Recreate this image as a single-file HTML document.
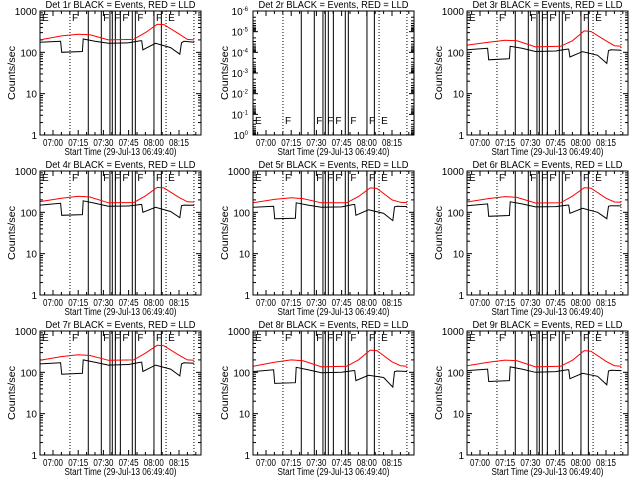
<!DOCTYPE html>
<html><head><meta charset="utf-8"><style>
body{margin:0;background:#fff}
svg{display:block}
text{font-family:"Liberation Sans",sans-serif;font-size:10px;fill:#000}
</style></head><body>
<svg id="c" width="640" height="480" viewBox="0 0 640 480"></svg>
<script>
// time in minutes after 07:00
const blackTimes=[-7.7,4.5,5.2,17.5,18,25,33,45,52,52.8,53.5,61,70,75.5,76.5,78,84];
const redTimes=[-7.7,5,15,22,33,48,55,62,66,75,80,84];
const detNames=["1r","2r","3r","4r","5r","6r","7r","8r","9r"];
const black1=[175,185,100,105,210,185,165,170,190,190,115,165,130,90,170,185,175];
const red1=[200,250,275,265,200,205,300,480,470,280,205,200];
const black3=[115,125,66,70,140,125,105,108,120,120,77,104,85,54,110,115,112];
const red3=[150,175,195,190,135,140,190,330,320,190,145,140];
const black4=[150,165,85,88,190,165,140,142,155,155,100,132,105,74,145,150,148];
const red4=[182,220,245,235,170,172,250,400,390,230,180,178];
const black5=[132,140,70,72,170,150,132,135,155,155,85,115,95,63,135,140,138];
const red5=[170,205,225,215,170,170,240,390,380,200,175,170];
const black6=[145,160,80,84,180,160,135,138,150,150,95,125,100,70,140,145,143];
const red6=[178,215,240,230,168,170,245,395,385,220,178,175];
const black7=[160,170,90,95,200,175,150,155,175,175,105,150,120,82,160,170,165];
const red7=[195,240,265,255,195,200,290,450,440,260,200,195];
const black8=[104,115,54,56,132,115,98,100,110,110,63,85,75,44,104,108,105];
const red8=[140,175,200,190,135,140,200,345,335,180,145,140];
const black9=[110,120,60,63,135,120,100,104,115,115,70,95,80,50,108,112,110];
const red9=[145,175,198,190,135,140,195,335,325,185,145,140];
const blackSeries=[black1,null,black3,black4,black5,black6,black7,black8,black9];
const redSeries=[red1,null,red3,red4,red5,red6,red7,red8,red9];
const solidLines=[21,28.75,33.9,35.3,37.1,40.1,47.2,49,60.1,64.5];
const dottedLines=[10.1,67.3,83.9];
const flagTimes=[10.1,28.75,35.3,40.1,49,60.1,67.3];
const flagLetters=["F","F","F","F","F","F","E"];
const xTickTimes=[0,15,30,45,60,75];
const xTickLabels=["07:00","07:15","07:30","07:45","08:00","08:15"];

const NS="http://www.w3.org/2000/svg";
const svg=document.getElementById("c");
function mk(tag,attrs,parent){const e=document.createElementNS(NS,tag);for(const k in attrs)e.setAttribute(k,attrs[k]);(parent||svg).appendChild(e);return e;}

for(let p=0;p<9;p++){
  const col=p%3,row=Math.floor(p/3);
  const x0=[0,213,427][col],y0=row*160;
  const L=x0+40,R=x0+201,T=y0+11,B=y0+135;
  const g=mk("g",{});
  
  
  const xs=t=>L+13+(t)*25.2/15;
  const isEmpty=p===1;
  // empty panel: inverted log axis, 1e-6 at top, 1e0 at bottom
  const ys=v=>isEmpty?B+Math.log10(v)*(B-T)/6:B-Math.log10(v)*(B-T)/3;
  const ti=mk("text",{x:(L+R)/2,y:T-3,"text-anchor":"middle",textLength:150,lengthAdjust:"spacingAndGlyphs"},g);
  ti.textContent="Det "+detNames[p]+" BLACK = Events, RED = LLD";
  
  
  const yt=mk("text",{x:0,y:0,"text-anchor":"middle",transform:`translate(${x0+15},${(T+B)/2}) rotate(-90)`,"font-size":"9",textLength:54,lengthAdjust:"spacingAndGlyphs"},g);
  yt.textContent="Counts/sec";
  
  
  const yg=mk("g",{},g);
  
  
  const decs=isEmpty?[-6,-5,-4,-3,-2,-1,0]:[0,1,2,3];
  decs.forEach(d=>{
    const v=Math.pow(10,d),y=ys(v);
    mk("line",{x1:L,x2:L+5,y1:y,y2:y,stroke:"#000"},yg);
    mk("line",{x1:R-5,x2:R,y1:y,y2:y,stroke:"#000"},yg);
    let lab;
    if(isEmpty){lab=mk("text",{x:L-5,y:y+4,"text-anchor":"end","font-size":"9"},yg);lab.innerHTML='10<tspan dy="-4" font-size="6">'+(d===0?'0':d)+'</tspan>';}
    else{lab=mk("text",{x:L-3,y:y+4,"text-anchor":"end"},yg);lab.textContent=String(v);}
    
    
    if(d<decs[decs.length-1]){for(let m=2;m<10;m++){const ym=ys(v*m);mk("line",{x1:L,x2:L+3,y1:ym,y2:ym,stroke:"#000"},yg);mk("line",{x1:R-3,x2:R,y1:ym,y2:ym,stroke:"#000"},yg);}}
  });
  const xg=mk("g",{},g);
  
  
  xTickTimes.forEach((t,i)=>{
    const x=xs(t);
    mk("line",{x1:x,x2:x,y1:B,y2:B-5,stroke:"#000"},xg);
    mk("line",{x1:x,x2:x,y1:T,y2:T+5,stroke:"#000"},xg);
    const lb=mk("text",{x:x,y:B+11,"text-anchor":"middle","font-size":"9",textLength:20,lengthAdjust:"spacingAndGlyphs"},xg);
    lb.textContent=xTickLabels[i];
    
    
  });
  for(let t=-5;t<=85;t+=5){if(t%15===0)continue;const x=xs(t);if(x<=L||x>=R)continue;mk("line",{x1:x,x2:x,y1:B,y2:B-3,stroke:"#000"},xg);mk("line",{x1:x,x2:x,y1:T,y2:T+3,stroke:"#000"},xg);}
  const xt=mk("text",{x:(L+R)/2,y:B+20,"text-anchor":"middle","font-size":"9",textLength:112,lengthAdjust:"spacingAndGlyphs"},g);
  xt.textContent="Start Time (29-Jul-13 06:49:40)";
  
  
  solidLines.forEach(t=>{const l=mk("line",{x1:xs(t),x2:xs(t),y1:T,y2:B,stroke:"#000"},g);
    
    });
  dottedLines.forEach(t=>{const l=mk("line",{x1:xs(t),x2:xs(t),y1:T,y2:B,stroke:"#000","stroke-dasharray":"1,2"},g);
    
    });
  const fy=isEmpty?B-11:T+10;
  const e0=mk("text",{x:L+2,y:fy,"font-size":"12"},g);e0.textContent="E";
  
  
  flagTimes.forEach((t,i)=>{const f=mk("text",{x:xs(t)+2,y:fy,"font-size":"12"},g);f.textContent=flagLetters[i];
    
    });
  if(!isEmpty){
    const rd=redSeries[p].map((v,i)=>xs(redTimes[i]).toFixed(1)+","+ys(v).toFixed(1)).join(" ");
    const rl=mk("polyline",{points:rd,fill:"none",stroke:"#f00","stroke-width":"1"},g);
    
    
    const bd=blackSeries[p].map((v,i)=>xs(blackTimes[i]).toFixed(1)+","+ys(v).toFixed(1)).join(" ");
    const bl=mk("polyline",{points:bd,fill:"none",stroke:"#000","stroke-width":"1"},g);
    
    
  }
  const box=mk("rect",{x:L,y:T,width:R-L,height:B-T,fill:"none",stroke:"#000"},g);
  
  
}
</script>
</body></html>
